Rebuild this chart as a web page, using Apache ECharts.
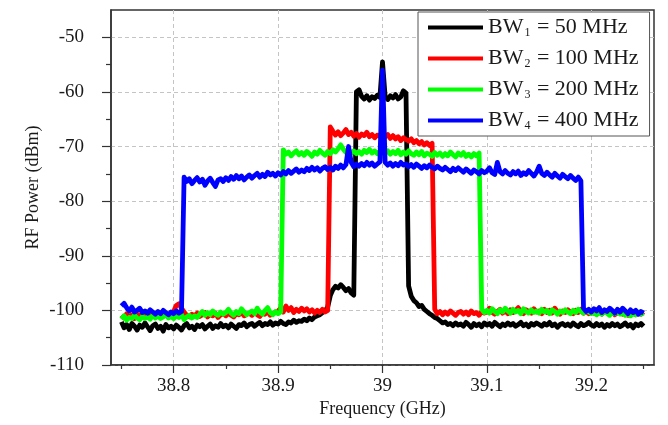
<!DOCTYPE html>
<html>
<head>
<meta charset="utf-8">
<script src="https://cdn.jsdelivr.net/npm/echarts@6/dist/echarts.min.js"></script>
<style>
  html, body { margin: 0; padding: 0; background: #fff; }
  #chart { width: 668px; height: 425px; }
</style>
</head>
<body>
<div id="chart"></div>
<script>
// Spectrum analyzer sweep: 38.75 – 39.25 GHz, 201 points (2.5 MHz step)
const sweepStartGHz = 38.75;
const sweepStepGHz = 0.0025;

// Axis ticks and labels
const xMajorTicks = [38.8, 38.9, 39.0, 39.1, 39.2];
const xMinorTicks = [38.75, 38.85, 38.95, 39.05, 39.15, 39.25];
const yMajorTicks = [-110, -100, -90, -80, -70, -60, -50];
const yMinorTicks = [-105, -95, -85, -75, -65, -55];

// Legend: bandwidth index (subscript) and bandwidth in MHz
const bwIndex = ['1', '2', '3', '4'];
const bwMHz = [50, 100, 200, 400];
const seriesColors = ['#000000', '#ff0000', '#00ff00', '#0000ff'];

// Measured RF power (dBm), one value per sweep point
const bw1Power = [
  -102.1, -103.2, -102.6, -103.5, -102.4, -102.9, -103.6, -102.7, -103.1, -102.3,
  -103.0, -103.7, -102.8, -102.5, -103.3, -102.9, -103.8, -102.6, -103.2, -102.9,
  -103.4, -102.7, -103.1, -103.6, -102.8, -102.4, -103.2, -102.9, -103.5, -102.7,
  -103.0, -102.6, -103.4, -102.9, -102.5, -103.3, -102.8, -103.1, -102.4, -103.0,
  -102.7, -103.2, -102.5, -102.9, -103.3, -102.6, -102.8, -102.3, -103.0, -102.6,
  -102.4, -102.9, -102.5, -102.2, -102.8, -102.4, -102.6, -102.1, -102.7, -102.3,
  -102.5, -102.0, -102.4, -102.6, -102.1, -102.3, -101.8, -102.2, -101.9, -102.0,
  -101.6, -101.9, -101.4, -101.7, -101.2, -101.0, -100.8, -100.4, -100.1, -99.4,
  -97.3, -96.2, -95.6, -95.9, -95.3, -95.8, -96.4, -96.0, -96.8, -97.2,
  -60.0, -59.6, -60.8, -61.3, -60.7, -61.5, -60.9, -61.2, -60.6, -61.0,
  -54.5, -60.8, -61.4, -60.7, -61.1, -60.5, -61.3, -60.9, -59.8, -60.2,
  -95.5, -97.4, -98.2, -98.6, -99.3, -99.1, -99.8, -100.2, -100.6, -100.9,
  -101.3, -101.5, -101.9, -102.3, -102.1, -102.6, -102.4, -102.8, -102.3, -102.7,
  -102.5, -102.9, -102.2, -102.6, -103.1, -102.4, -102.8, -102.5, -103.0, -102.3,
  -102.7, -102.4, -102.9, -102.2, -102.6, -103.0, -102.5, -102.8, -102.3, -102.7,
  -102.4, -102.9, -102.6, -102.2, -102.8, -102.5, -103.0, -102.4, -102.7, -102.3,
  -102.6, -102.9, -102.4, -102.7, -102.2, -102.8, -102.5, -103.1, -102.6, -102.4,
  -102.8, -102.5, -102.9, -102.3, -102.7, -103.0, -102.4, -102.8, -102.6, -102.2,
  -102.7, -102.9, -102.4, -102.8, -102.5, -103.1, -102.6, -102.9, -102.4, -102.8,
  -102.5, -103.0, -102.7, -102.3, -102.9, -102.6, -103.2, -102.5, -102.8, -102.4,
  -102.9
];

const bw2Power = [
  -100.9, -101.4, -100.6, -101.2, -100.8, -101.5, -100.7, -101.1, -100.5, -101.3,
  -100.8, -101.2, -100.6, -101.0, -100.4, -101.3, -100.9, -100.6, -101.1, -100.7,
  -100.2, -99.1, -98.8, -99.6, -100.3, -100.9, -101.2, -100.7, -101.0, -100.5,
  -101.1, -100.8, -100.4, -101.2, -100.7, -101.0, -100.5, -101.3, -100.8, -100.6,
  -101.0, -100.5, -100.9, -101.2, -100.6, -100.8, -100.3, -101.0, -100.7, -100.5,
  -100.9, -100.4, -100.8, -101.1, -100.5, -100.7, -100.2, -100.9, -100.6, -100.4,
  -100.1, -99.6, -100.3, -99.2, -100.0, -99.5, -100.4, -99.8, -100.2, -99.6,
  -100.1, -99.7, -100.3, -99.9, -100.5, -100.0, -100.4, -99.8, -100.3, -100.0,
  -66.4, -67.2, -67.9, -67.3, -68.0, -67.5, -66.9, -67.8, -67.4, -68.1,
  -67.6, -68.3, -67.7, -68.0, -67.4, -68.2, -67.8, -68.4, -67.9, -68.1,
  -67.3, -68.2, -67.8, -68.5, -68.0, -68.6, -68.2, -68.9, -68.4, -68.7,
  -69.0, -68.6, -69.3, -68.9, -69.5, -69.1, -69.7, -69.3, -69.8, -69.4,
  -99.8, -100.6, -100.2, -100.8, -100.3, -100.7, -100.1, -100.5, -100.9, -100.4,
  -100.2, -100.7, -100.3, -100.8, -100.1, -100.6, -100.4, -100.9, -100.2, -100.5,
  -100.3, -99.6, -100.4, -100.7, -100.2, -99.8, -100.5, -100.1, -100.6, -99.9,
  -100.4, -100.0, -99.5, -100.3, -100.6, -99.9, -100.2, -100.5, -99.7, -100.3,
  -100.1, -100.6, -99.8, -100.4, -100.0, -100.5, -99.6, -100.2, -100.7, -100.1,
  -100.4, -99.9, -100.3, -100.6, -100.0, -100.4, -99.8, -100.5, -100.2, -100.6,
  -100.1, -100.5, -99.9, -100.3, -100.7, -100.2, -100.0, -100.6, -100.3, -100.8,
  -100.4, -100.1, -100.7, -100.3, -100.9, -100.5, -100.2, -100.8, -100.4, -100.7,
  -100.3
];

const bw3Power = [
  -101.6, -101.0, -101.8, -101.3, -101.5, -100.9, -101.4, -101.7, -101.1, -101.5,
  -101.2, -101.6, -100.9, -101.4, -101.0, -101.5, -101.2, -100.8, -101.4, -101.1,
  -101.5, -101.0, -101.3, -100.8, -101.7, -101.2, -100.9, -101.4, -101.0, -101.3,
  -100.7, -100.2, -100.9, -100.4, -100.8, -100.1, -100.6, -100.9, -100.3, -100.7,
  -100.4, -99.8, -100.5, -100.9, -100.2, -100.6, -99.7, -100.3, -100.8, -100.4,
  -100.1, -100.6, -99.6, -100.3, -100.7, -100.0, -99.5, -100.4, -100.8, -100.2,
  -100.6, -100.3,
  -70.6, -71.4, -71.0, -71.7, -71.2, -70.8, -71.5, -71.1,
  -71.6, -70.9, -71.3, -71.8, -71.0, -71.4, -70.7, -71.2, -71.6, -70.9,
  -71.3, -70.6, -71.0, -70.4, -69.7, -70.5, -71.1, -70.7, -71.2, -70.8,
  -71.3, -70.9, -71.4, -70.7, -71.1, -70.5, -71.2, -70.8, -71.3, -70.9,
  -70.6, -71.2, -70.8, -71.4, -70.9, -71.3, -70.7, -71.5, -71.0, -71.4,
  -70.8, -71.3, -71.6, -71.0, -71.5, -70.9, -71.7, -71.2, -71.4, -71.8,
  -71.1, -71.6, -71.2, -71.8, -71.3, -71.7, -71.0, -71.5, -71.9, -71.2,
  -71.6, -71.1, -71.8, -71.4, -71.9, -71.3, -71.7, -71.2,
  -99.8, -100.4,
  -100.0, -100.5, -99.7, -100.2, -100.6, -99.9, -100.3, -99.6, -100.1, -100.5,
  -99.8, -100.3, -100.0, -100.6, -99.7, -100.2, -100.5, -99.9, -100.4, -100.1,
  -100.5, -99.8, -100.3, -100.0, -100.6, -99.9, -100.2, -100.7, -100.1, -100.4,
  -99.9, -100.3, -100.6, -100.0, -100.4, -99.8, -100.2, -100.5, -100.1, -100.3,
  -100.6, -100.2, -100.8, -100.3, -100.7, -100.1, -100.5, -100.9, -100.4, -100.6,
  -100.2, -100.7, -100.4, -100.9, -100.5, -101.0, -100.6, -100.8, -100.3, -100.7,
  -100.5
];

const bw4Power = [
  -99.2, -98.7, -99.5, -100.1, -99.4, -100.3, -100.0, -99.6, -100.4, -100.1,
  -100.5, -99.9, -100.3, -100.7, -100.2, -100.6, -100.0, -100.4, -100.8, -100.3,
  -100.6, -100.1, -100.5, -100.2,
  -75.6, -76.4, -75.9, -76.8, -76.2, -75.7,
  -76.5, -76.0, -77.1, -76.3, -75.8, -76.6, -77.3, -76.1, -75.9, -76.4,
  -75.7, -76.2, -75.5, -76.0, -75.3, -75.9, -75.4, -76.1, -75.6, -75.2,
  -75.8, -75.3, -74.9, -75.6, -75.1, -75.5, -74.7, -75.2, -74.9, -75.4,
  -74.8, -75.2, -74.6, -75.0, -74.4, -74.9, -74.5, -74.1, -74.7, -74.3,
  -74.6, -74.0, -74.4, -73.8, -74.3, -73.9, -74.5, -74.0, -73.7, -74.2,
  -73.8, -74.3, -73.6, -74.0, -73.4, -73.9, -73.3, -70.0, -72.9, -73.7,
  -73.2, -73.6, -73.1, -73.5, -72.9, -73.4, -73.0, -73.6, -73.2, -72.8,
  -56.0, -72.9, -73.4, -73.0, -73.6, -73.1, -73.5, -72.9, -73.4, -73.2,
  -73.7, -73.3, -73.8, -73.2, -73.6, -74.0, -73.5, -73.9, -73.4, -73.8,
  -74.1, -73.6, -74.0, -74.3, -73.8, -74.2, -74.6, -74.0, -74.4, -73.9,
  -74.3, -74.7, -74.1, -74.5, -74.9, -74.3, -74.6, -75.0, -74.4, -74.8,
  -74.5, -73.9, -74.8, -75.1, -72.9, -74.6, -75.0, -74.4, -74.9, -75.2,
  -74.6, -75.0, -74.5, -75.3, -74.8, -75.1, -74.4, -74.9, -75.4, -74.7,
  -73.6, -74.9, -75.3, -74.7, -75.2, -75.6, -74.9, -75.4, -75.8, -75.1,
  -75.5, -75.9, -75.3, -75.8, -76.2, -75.6, -76.3,
  -99.6, -100.2, -99.8,
  -100.3, -99.7, -100.1, -99.5, -100.4, -99.9, -100.2, -99.6, -100.0, -100.5,
  -99.8, -100.3, -99.6, -100.1, -100.6, -99.9, -100.4, -100.0, -100.7, -100.2,
  -100.5
];

const powerSeries = [bw1Power, bw2Power, bw3Power, bw4Power];
powerSeries.forEach((arr, k) => {
  if (arr.length !== 201) throw new Error('series ' + (k + 1) + ' has ' + arr.length + ' points');
});

// Frequency of each sweep point
const freqGHz = bw1Power.map((_, i) => +(sweepStartGHz + i * sweepStepGHz).toFixed(4));

const serif = 'Liberation Serif';
const textColor = '#1a1a1a';
const frameColor = '#333';
const gridColor = '#c4c4c4';

const seriesNames = bwIndex.map((s, k) => 'BW' + s + ' = ' + bwMHz[k] + ' MHz');

const chart = echarts.init(document.getElementById('chart'), null, { renderer: 'canvas' });

chart.setOption({
  animation: false,
  backgroundColor: '#fff',
  grid: {
    left: 111, right: 14, top: 10, bottom: 60,
    show: true, borderColor: frameColor, borderWidth: 1.5, backgroundColor: 'transparent'
  },
  legend: {
    orient: 'vertical',
    left: 418, top: 12,
    padding: [4, 11, 4, 10],
    itemGap: 8,
    itemWidth: 55, itemHeight: 4,
    itemStyle: { borderWidth: 0 },
    icon: 'rect',
    backgroundColor: '#fff',
    borderColor: '#555', borderWidth: 1,
    data: seriesNames,
    formatter: (name) => {
      const k = seriesNames.indexOf(name);
      return 'BW{s|' + bwIndex[k] + '} = ' + bwMHz[k] + ' MHz';
    },
    textStyle: {
      fontFamily: serif, fontSize: 22, color: textColor, lineHeight: 23,
      rich: {
        s: { fontFamily: serif, fontSize: 12, color: textColor, verticalAlign: 'bottom', padding: [15, 1, 0, 1] }
      }
    }
  },
  xAxis: [
    {
      type: 'value', min: 38.74, max: 39.26, position: 'bottom',
      name: 'Frequency (GHz)', nameLocation: 'middle', nameGap: 35, nameMoveOverlap: false,
      nameTextStyle: { fontFamily: serif, fontSize: 18, color: textColor },
      axisLine: { show: true, lineStyle: { color: frameColor, width: 1.5 } },
      axisTick: { show: true, customValues: xMajorTicks, length: 8, inside: false, lineStyle: { color: frameColor, width: 1.2 } },
      axisLabel: { customValues: xMajorTicks, fontFamily: serif, fontSize: 19, color: textColor, margin: 12,
        formatter: (v) => String(+v.toFixed(1)) },
      splitLine: { show: true, lineStyle: { color: gridColor, type: [4, 3], width: 1 } }
    },
    {
      type: 'value', min: 38.74, max: 39.26, position: 'bottom',
      axisLine: { show: false },
      axisTick: { show: true, customValues: xMinorTicks, length: 4, inside: false, lineStyle: { color: frameColor, width: 1.2 } },
      axisLabel: { show: false },
      splitLine: { show: false }
    }
  ],
  yAxis: [
    {
      type: 'value', min: -110, max: -45, position: 'left',
      name: 'RF Power (dBm)', nameLocation: 'middle', nameGap: 69, nameRotate: 90, nameMoveOverlap: false,
      nameTextStyle: { fontFamily: serif, fontSize: 18, color: textColor },
      axisLine: { show: true, lineStyle: { color: frameColor, width: 1.5 } },
      axisTick: { show: true, customValues: yMajorTicks, length: 9, inside: false, lineStyle: { color: frameColor, width: 1.2 } },
      axisLabel: { customValues: yMajorTicks, fontFamily: serif, fontSize: 19, color: textColor, margin: 27 },
      splitLine: { show: true, lineStyle: { color: gridColor, type: [4, 3], width: 1 } }
    },
    {
      type: 'value', min: -110, max: -45, position: 'left',
      axisLine: { show: false },
      axisTick: { show: true, customValues: yMinorTicks, length: 5, inside: false, lineStyle: { color: frameColor, width: 1.2 } },
      axisLabel: { show: false },
      splitLine: { show: false }
    }
  ],
  series: powerSeries.map((vals, k) => ({
    name: seriesNames[k],
    type: 'line',
    xAxisIndex: 0, yAxisIndex: 0,
    data: freqGHz.map((f, i) => [f, vals[i]]),
    showSymbol: false, symbol: 'none',
    color: seriesColors[k],
    lineStyle: { color: seriesColors[k], width: 4.8, join: 'round' },
    emphasis: { disabled: true },
    z: 2 + k
  }))
});
</script>
</body>
</html>
